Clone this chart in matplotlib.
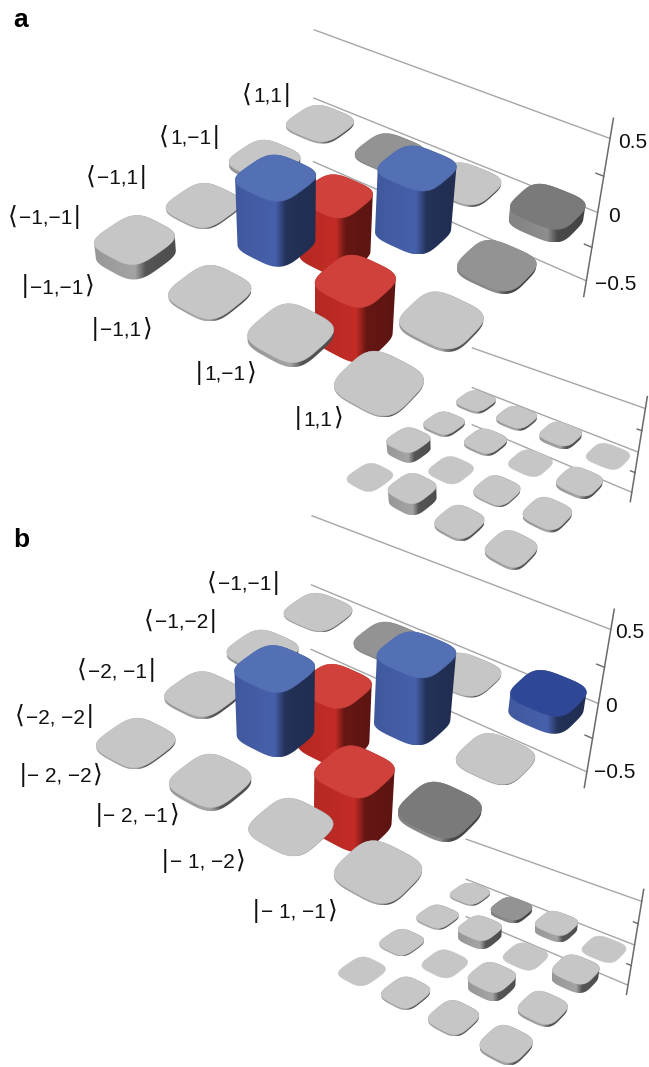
import numpy as np
import matplotlib
matplotlib.use("Agg")
import matplotlib.pyplot as plt
from matplotlib.patches import Polygon

plt.rcParams['font.family'] = ['Liberation Sans', 'DejaVu Sans']

# bar heights
a_real = [[0.015, 0.010, 0.015, 0.090],
          [0.030, -0.420, 0.420, 0.020],
          [0.012, 0.430, -0.380, 0.020],
          [0.100, 0.015, 0.030, 0.010]]
a_imag = [[0.030, 0.030, 0.040, 0.000],
          [0.030, 0.030, 0.000, 0.035],
          [0.120, 0.000, 0.020, 0.030],
          [0.000, 0.130, 0.030, 0.030]]
b_real = [[0.010, 0.010, 0.010, 0.120],
          [0.020, -0.420, 0.450, 0.006],
          [0.020, 0.430, -0.380, 0.025],
          [0.012, 0.025, 0.002, 0.012]]
b_imag = [[0.020, 0.040, 0.080, 0.000],
          [0.020, 0.100, 0.000, 0.100],
          [0.015, 0.000, 0.100, 0.030],
          [0.000, 0.020, 0.020, 0.030]]

# colour class of every bar
a_real_tone = ["lmlk", "lrbm", "lbrl", "llll"]
a_imag_tone = ["llll", "llll", "llll", "llll"]
b_real_tone = ["lmln", "lrbl", "lbrk", "llll"]
b_imag_tone = ["lmll", "llll", "llll", "llll"]

a_bras = ["1,1", "1,−1", "−1,1", "−1,−1"]
a_kets = ["−1,−1", "−1,1", "1,−1", "1,1"]
b_bras = ["−1,−1", "−1,−2", "−2, −1", "−2, −2"]
b_kets = ["− 2, −2", "− 2, −1", "− 1, −2", "− 1, −1"]

z_ticks = [0.5, 0, -0.5]
z_tick_labels = ["0.5", "0", "−0.5"]

TOPS = {"l": "#c6c6c6", "m": "#939393", "k": "#7a7a7a", "b": "#5370b5",
        "r": "#d0413c", "n": "#2f4797"}
SIDES = {"l": "#a4a4a4", "m": "#8c8c8c", "k": "#8e8e8e", "b": "#4660ab",
         "r": "#c42c26", "n": "#4660ab"}

HALF = 0.34
POWER = 3.6


def homography(corners):
    # grid corners (0,0) (0,3) (3,0) (3,3) to pixels
    A, y = [], []
    for (r, c), (px, py) in zip([(0, 0), (0, 3), (3, 0), (3, 3)], corners):
        A.append([r, c, 1, 0, 0, 0, -r * px, -c * px])
        A.append([0, 0, 0, r, c, 1, -r * py, -c * py])
        y += [px, py]
    return np.append(np.linalg.solve(np.array(A, float), np.array(y, float)), 1).reshape(3, 3)


class Plot3D:
    def __init__(self, corners, vanish, zpx):
        self.H = homography(corners)
        self.V = np.array(vanish + (1.0,))
        w = self.H @ np.array([-0.43, 3.38, 1.0])
        self.k = -2 * zpx * w[2] / (vanish[1] - w[1] / w[2] + zpx)

    def project(self, r, c, z):
        p = self.H @ np.array([r, c, 1.0]) + z * self.k * self.V
        return p[0] / p[2], p[1] / p[2]


def hull(points):
    pts = sorted(map(tuple, points))
    def half(seq):
        out = []
        for p in seq:
            while len(out) > 1 and (out[-1][0] - out[-2][0]) * (p[1] - out[-2][1]) - (out[-1][1] - out[-2][1]) * (p[0] - out[-2][0]) <= 0:
                out.pop()
            out.append(p)
        return out[:-1]
    return np.array(half(pts) + half(pts[::-1]))


def side_gradient(tone):
    t = np.linspace(0, 1, 256)
    f = np.interp(t, [0, 0.5, 0.63, 1], [0.92, 1.0, 0.52, 0.47])
    base = np.array(matplotlib.colors.to_rgb(SIDES[tone]))
    return np.clip(f[:, None] * base, 0, 1)[None, :, :]


def draw_bar(ax, plot, r, c, z, tone):
    th = np.linspace(0, 2 * np.pi, 241)
    dr = HALF * np.sign(np.cos(th)) * np.abs(np.cos(th)) ** (2 / POWER)
    dc = HALF * np.sign(np.sin(th)) * np.abs(np.sin(th)) ** (2 / POWER)
    top = np.array([plot.project(r + a, c + b, max(z, 0)) for a, b in zip(dr, dc)])
    bot = np.array([plot.project(r + a, c + b, min(z, 0)) for a, b in zip(dr, dc)])
    if abs(z) > 0:
        outline = hull(np.vstack([top, bot]))
        xmin, xmax = outline[:, 0].min(), outline[:, 0].max()
        ymin, ymax = outline[:, 1].min(), outline[:, 1].max()
        im = ax.imshow(side_gradient(tone), extent=(xmin, xmax, ymax, ymin), aspect="auto", zorder=3)
        clip = Polygon(outline, closed=True, transform=ax.transData)
        im.set_clip_path(clip)
    ax.add_patch(Polygon(top, closed=True, facecolor=TOPS[tone], edgecolor=TOPS[tone], linewidth=0.3, zorder=3))


def draw_plot(ax, plot, values, tones):
    r0, c0, c1 = -0.43, -0.43, 3.38
    for z in z_ticks:
        a = plot.project(r0, c0, z)
        b = plot.project(r0, c1, z)
        ax.plot([a[0], b[0]], [a[1], b[1]], color="#a6a6a6", lw=1.0, zorder=1)
    a = plot.project(r0, c1, 0.63)
    b = plot.project(r0, c1, -0.62)
    ax.plot([a[0], b[0]], [a[1], b[1]], color="#6a6a6a", lw=1.1, zorder=2)
    for z in [0.25, -0.25]:
        a = plot.project(r0, c1, z)
        b = plot.project(r0, c1 - 0.09, z)
        ax.plot([a[0], b[0]], [a[1], b[1]], color="#6a6a6a", lw=1.0, zorder=2)
    order = sorted(((r, c) for r in range(4) for c in range(4)), key=lambda p: p[0] + p[1])
    for r, c in order:
        draw_bar(ax, plot, r, c, values[r][c], tones[r][c])


fig = plt.figure(figsize=(6.49, 10.67), dpi=100)
ax = fig.add_axes([0, 0, 1, 1])
ax.axis("off")
ax.set_xlim(0, 649)
ax.set_ylim(1067, 0)

a_big = Plot3D([(320, 125), (546, 219), (136, 254), (379, 384)], (300, 2000), 74)
a_small = Plot3D([(476, 403), (608, 456), (370, 477), (511, 551)], (470, 1490), 43.6)
b_big = Plot3D([(318, 613), (546, 710), (136, 744), (378, 873)], (298, 2491), 74)
b_small = Plot3D([(470, 895), (604, 949), (362, 971), (506, 1046)], (465, 1980), 43.6)

draw_plot(ax, a_small, a_imag, a_imag_tone)
draw_plot(ax, b_small, b_imag, b_imag_tone)
draw_plot(ax, a_big, a_real, a_real_tone)
draw_plot(ax, b_big, b_real, b_real_tone)
ax.set_xlim(0, 649)
ax.set_ylim(1067, 0)

FS = 15
BRACKET_FS = 18
PAD = 1.5
renderer = fig.canvas.get_renderer()


def put_label(cx, cy, parts):
    # parts are (string, size); set side by side on one baseline, centred on cx
    texts = [ax.text(0, cy + 7, s, fontsize=fs, ha="left", va="baseline", color="#111111") for s, fs in parts]
    widths = [t.get_window_extent(renderer).width + PAD for t in texts]
    x = cx - sum(widths) / 2
    for t, w in zip(texts, widths):
        t.set_x(x)
        x += w


a_bra_xy = [(267, 95), (190, 137), (117, 177), (45, 217)]
a_ket_xy = [(59, 286), (123, 329), (227, 373), (320, 418)]
b_bra_xy = [(244, 583), (181, 621), (117, 670), (55, 716)]
b_ket_xy = [(62, 775), (138, 815), (205, 861), (296, 911)]
for labels, pos in [(a_bras, a_bra_xy), (b_bras, b_bra_xy)]:
    for s, (x, y) in zip(labels, pos):
        put_label(x, y, [("⟨", BRACKET_FS), (s, FS), ("|", BRACKET_FS)])
for labels, pos in [(a_kets, a_ket_xy), (b_kets, b_ket_xy)]:
    for s, (x, y) in zip(labels, pos):
        put_label(x, y, [("|", BRACKET_FS), (s, FS), ("⟩", BRACKET_FS)])

a_tick_xy = [(633, 142), (614, 216), (616, 284)]
b_tick_xy = [(630, 632), (611, 707), (615, 773)]
for s, (x, y) in zip(z_tick_labels, a_tick_xy):
    ax.text(x, y, s, fontsize=FS, ha="center", va="center", color="#111111")
for s, (x, y) in zip(z_tick_labels, b_tick_xy):
    ax.text(x, y, s, fontsize=FS, ha="center", va="center", color="#111111")

ax.text(21, 27, "a", fontsize=19, fontweight="bold", ha="center", va="baseline")
ax.text(21, 547, "b", fontsize=19, fontweight="bold", ha="center", va="baseline")

fig.savefig("out.png", dpi=100)
